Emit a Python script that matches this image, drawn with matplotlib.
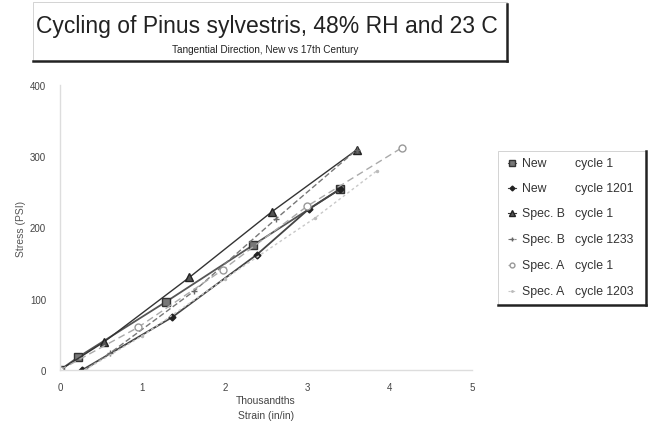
import matplotlib
matplotlib.use("Agg")
import matplotlib.pyplot as plt
from matplotlib.lines import Line2D
from matplotlib.patches import Rectangle

plt.rcParams['font.family'] = ['Liberation Sans', 'DejaVu Sans']

# ---- data ----
names = ["New", "New", "Spec. B", "Spec. B", "Spec. A", "Spec. A"]
cycles = ["cycle 1", "cycle 1201", "cycle 1", "cycle 1233", "cycle 1", "cycle 1203"]

new_c1_x = [0, 0.22, 1.29, 2.34, 3.40]
new_c1_y = [0, 18, 96, 175, 254]
new_c1201_x = [0.27, 1.36, 2.39, 3.02, 3.40]
new_c1201_y = [0, 74, 162, 226, 254]
specb_c1_x = [0, 0.53, 1.57, 2.57, 3.60]
specb_c1_y = [0, 39, 130, 222, 309]
specb_c1233_x = [0.30, 0.61, 1.63, 2.62, 3.60]
specb_c1233_y = [0, 24, 111, 212, 309]
speca_c1_x = [0, 0.95, 1.98, 3.00, 4.15]
speca_c1_y = [0, 60, 141, 230, 312]
speca_c1203_x = [0.30, 1.00, 2.00, 3.09, 3.85]
speca_c1203_y = [0, 48, 128, 213, 280]

xs = [new_c1_x, new_c1201_x, specb_c1_x, specb_c1233_x, speca_c1_x, speca_c1203_x]
ys = [new_c1_y, new_c1201_y, specb_c1_y, specb_c1233_y, speca_c1_y, speca_c1203_y]

x_ticks = [0, 1, 2, 3, 4, 5]
y_ticks = [0, 100, 200, 300, 400]

styles = [
    dict(color="#555555", marker="s", ms=6, ls="-", lw=1.3, mfc="#777777", mec="#333333"),
    dict(color="#444444", marker="D", ms=3.5, ls="-", lw=1.3, mfc="#222222", mec="#222222"),
    dict(color="#333333", marker="^", ms=6, ls="-", lw=1.0, mfc="#555555", mec="#222222"),
    dict(color="#777777", marker="+", ms=5, ls=(0, (4, 2)), lw=1.0, mfc="#777777", mec="#666666"),
    dict(color="#aaaaaa", marker="o", ms=5, ls=(0, (5, 3)), lw=1.0, mfc="white", mec="#999999"),
    dict(color="#c8c8c8", marker=".", ms=3, ls=(0, (2, 2)), lw=1.0, mfc="#bbbbbb", mec="#bbbbbb"),
]

W, H = 658, 427
fig = plt.figure(figsize=(W / 100, H / 100), dpi=100)

def fx(px):
    return px / W

def fy(py):
    return 1 - py / H

ax = fig.add_axes([fx(60), fy(371), fx(472) - fx(60), fy(86) - fy(371)])
for x, y, st in zip(xs, ys, styles):
    ax.plot(x, y, **st)

ax.set_xlim(0, 5)
ax.set_ylim(0, 400)
ax.set_xticks(x_ticks)
ax.set_yticks(y_ticks)
ax.tick_params(length=0, labelsize=7, colors="#444444", pad=9)
ax.tick_params(axis="y", pad=10)
for s in ["top", "right"]:
    ax.spines[s].set_visible(False)
for s in ["left", "bottom"]:
    ax.spines[s].set_color("#dddddd")
    ax.spines[s].set_linewidth(1.0)
ax.set_xlabel("Thousandths\nStrain (in/in)", fontsize=7.5, color="#444444", labelpad=2, linespacing=1.6)
ax.set_ylabel("Stress (PSI)", fontsize=7.5, color="#555555", labelpad=3)

# ---- title box ----
fig.add_artist(Rectangle((fx(33), fy(62)), fx(507) - fx(33), fy(3) - fy(62),
                         fill=False, ec="#cccccc", lw=0.6, transform=fig.transFigure))
fig.add_artist(Line2D([fx(33), fx(507)], [fy(62), fy(62)], color="#222222", lw=1.8, transform=fig.transFigure))
fig.add_artist(Line2D([fx(507), fx(507)], [fy(62), fy(5)], color="#222222", lw=1.8, transform=fig.transFigure))
fig.text(fx(267), fy(27), "Cycling of Pinus sylvestris, 48% RH and 23 C", fontsize=16.5,
         ha="center", va="center", color="#222222")
fig.text(fx(265), fy(50), "Tangential Direction, New vs 17th Century", fontsize=7.2,
         ha="center", va="center", color="#222222")

# ---- legend box ----
fig.add_artist(Rectangle((fx(498), fy(306)), fx(646) - fx(498), fy(152) - fy(306),
                         fill=False, ec="#cccccc", lw=0.6, transform=fig.transFigure))
fig.add_artist(Line2D([fx(498), fx(646)], [fy(306), fy(306)], color="#222222", lw=1.8, transform=fig.transFigure))
fig.add_artist(Line2D([fx(646), fx(646)], [fy(306), fy(152)], color="#222222", lw=1.8, transform=fig.transFigure))
row_y = [164, 189, 214, 240, 266, 292]
for ry, name, cyc, st in zip(row_y, names, cycles, styles):
    s2 = dict(st)
    s2["ms"] = max(2, st["ms"] * 0.7)
    s2["lw"] = 0.8
    fig.add_artist(Line2D([fx(508), fx(512), fx(516)], [fy(ry)] * 3, transform=fig.transFigure,
                          markevery=[1], **s2))
    fig.text(fx(522), fy(ry), name, fontsize=8.8, va="center", ha="left", color="#333333")
    fig.text(fx(575), fy(ry), cyc, fontsize=8.8, va="center", ha="left", color="#333333")

fig.savefig("out.png", dpi=100)
